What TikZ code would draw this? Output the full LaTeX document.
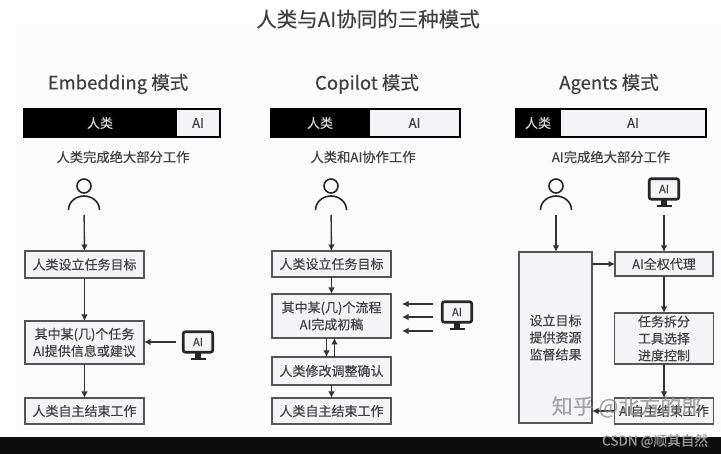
\documentclass[tikz,border=0pt]{standalone}
\usepackage{fontspec}
\setmainfont{Noto Sans CJK SC}[FakeBold=0.25]
\usepackage{tikz}
\usetikzlibrary{positioning, arrows.meta}
\definecolor{inkgray}{HTML}{404040}
\definecolor{boxline}{HTML}{555555}
\definecolor{boxfill}{HTML}{F4F4F6}
\tikzset{
  flowbox/.style={draw=boxline, line width=1.3pt, fill=boxfill, text=inkgray, align=center, font=\fontsize{13}{17}\selectfont, inner sep=0pt, outer sep=0pt},
  flowarrow/.style={->, line width=1.4pt, draw=black!80},
  darkbar/.style={fill=black, draw=black, line width=1.3pt, text=white!85!black, inner sep=0pt, outer sep=0pt, font=\fontsize{13}{15}\selectfont},
  lightbar/.style={fill=boxfill, draw=black, line width=1.3pt, text=inkgray, inner sep=0pt, outer sep=0pt, font=\fontsize{13}{15}\selectfont},
  headtext/.style={text=inkgray, font=\fontsize{18.5}{22}\selectfont, inner sep=0pt},
  subtext/.style={text=inkgray, font=\fontsize{13.3}{16}\selectfont, inner sep=0pt},
  humanicon/.style={minimum width=32pt, minimum height=42pt, inner sep=0pt, outer sep=0pt},
  monitor/.style={draw=black!85, line width=2.6pt, rounded corners=2pt, fill=boxfill, text=inkgray, minimum width=29.5pt, minimum height=20.5pt, inner sep=0pt, outer sep=0pt, font=\fontsize{11}{13}\selectfont},
}
\newcommand{\humanshape}[1]{
  \draw[black!85, line width=1.6pt] ([yshift=8pt]#1.center) circle (7pt);
  \draw[black!85, line width=1.6pt] ([xshift=-15.5pt,yshift=-16pt]#1.center) arc (180:0:15.5pt and 14pt);
}
\newcommand{\monitorstand}[1]{
  \fill[black!85] ([xshift=-3pt]#1.south) rectangle ([xshift=3pt,yshift=-5.5pt]#1.south);
  \fill[black!85] ([xshift=-7.5pt,yshift=-5.5pt]#1.south) rectangle ([xshift=7.5pt,yshift=-8pt]#1.south);
}
\begin{document}
\begin{tikzpicture}[x=1pt, y=-1pt, >={Latex[length=6.5pt,width=6.5pt]}, node distance=20pt]
  \useasboundingbox (0,0) rectangle (721,454);
  \fill[white] (0,0) rectangle (721,454);
  \fill[black!1.5] (16,24) rectangle (721,432);
  \fill[black!95] (0,437) rectangle (721,454);
  \node[text=inkgray, font=\fontsize{20.5}{24}\selectfont, inner sep=0pt] (title) at (368,19) {人类与AI协同的三种模式};

  % Embedding
  \node[headtext] (headA) at (118,84) {Embedding 模式};
  \node[darkbar, minimum width=152pt, minimum height=28pt] (barAhuman) at (100,123) {人类};
  \node[lightbar, minimum width=44pt, minimum height=28pt, right=0pt of barAhuman] (barAai) {AI};
  \node[subtext] (subA) at (123,157) {人类完成绝大部分工作};
  \node[humanicon] (humanA) at (84,194) {};
  \humanshape{humanA}
  \node[flowbox, minimum width=119pt, minimum height=27pt] (setA) at (84.5,264.5) {人类设立任务目标};
  \node[flowbox, minimum width=119pt, minimum height=43pt, below=43pt of setA] (helpA) {其中某(几)个任务\\AI提供信息或建议};
  \node[flowbox, minimum width=119pt, minimum height=26pt, below=34pt of helpA] (endA) {人类自主结束工作};
  \node[monitor] (aiA) at (198,342) {AI};
  \monitorstand{aiA}
  \draw[flowarrow] (humanA) -- (setA);
  \draw[flowarrow] (setA) -- (helpA);
  \draw[flowarrow] (helpA) -- (endA);
  \coordinate[left=7pt of aiA] (aiAout);
  \draw[flowarrow] (aiAout) -- (aiAout -| helpA.east);

  % Copilot
  \node[headtext] (headB) at (367,84) {Copilot 模式};
  \node[darkbar, minimum width=98pt, minimum height=28pt] (barBhuman) at (320,123) {人类};
  \node[lightbar, minimum width=91pt, minimum height=28pt, right=0pt of barBhuman] (barBai) {AI};
  \node[subtext] (subB) at (363,157) {人类和AI协作工作};
  \node[humanicon] (humanB) at (331,194) {};
  \humanshape{humanB}
  \node[flowbox, minimum width=119pt, minimum height=26pt] (setB) at (331.5,264) {人类设立任务目标};
  \node[flowbox, minimum width=119pt, minimum height=44pt, below=17pt of setB] (draftB) {其中某(几)个流程\\AI完成初稿};
  \node[flowbox, minimum width=119pt, minimum height=28pt, below=19pt of draftB] (editB) {人类修改调整确认};
  \node[flowbox, minimum width=119pt, minimum height=26pt, below=13pt of editB] (endB) {人类自主结束工作};
  \node[monitor] (aiB) at (457,312) {AI};
  \monitorstand{aiB}
  \coordinate (aiBtop) at (433,304);
  \coordinate (aiBmid) at (433,317);
  \coordinate (aiBlow) at (433,331);
  \coordinate (draftBtip) at (402,317);
  \draw[flowarrow] (humanB) -- (setB);
  \draw[flowarrow] (setB) -- (draftB);
  \draw[flowarrow] (editB) -- (endB);
  \draw[flowarrow] ([xshift=-5pt]draftB.south) -- ([xshift=-5pt]editB.north);
  \draw[flowarrow] ([xshift=3pt]editB.north) -- ([xshift=3pt]draftB.south);
  \draw[flowarrow] (aiBtop) -- (aiBtop -| draftBtip);
  \draw[flowarrow] (aiBmid) -- (draftBtip);
  \draw[flowarrow] (aiBlow) -- (aiBlow -| draftBtip);

  % Agents
  \node[headtext] (headC) at (609,84) {Agents 模式};
  \node[darkbar, minimum width=44pt, minimum height=28pt] (barChuman) at (538,123) {人类};
  \node[lightbar, minimum width=146pt, minimum height=28pt, right=0pt of barChuman] (barCai) {AI};
  \node[subtext] (subC) at (611,157) {AI完成绝大部分工作};
  \node[humanicon] (humanC) at (556,194) {};
  \humanshape{humanC}
  \node[monitor] (aiC) at (664,189) {AI};
  \monitorstand{aiC}
  \coordinate (aiCout) at (664,215);
  \node[flowbox, minimum width=73pt, minimum height=171pt] (superC) at (555.5,337.5) {设立目标\\提供资源\\监督结果};
  \node[flowbox, minimum width=98pt, minimum height=24pt] (agentC) at (664,264) {AI全权代理};
  \node[flowbox, minimum width=99pt, minimum height=51pt, below=37pt of agentC] (planC) {任务拆分\\工具选择\\进度控制};
  \node[flowbox, minimum width=99pt, minimum height=26pt, below=34pt of planC] (endC) {AI自主结束工作};
  \draw[flowarrow] (humanC) -- (superC.north -| humanC);
  \draw[flowarrow] (aiCout) -- (agentC);
  \draw[flowarrow] (superC.east |- agentC) -- (agentC);
  \draw[flowarrow] (agentC) -- (planC);
  \draw[flowarrow] (planC) -- (endC);
  \draw[flowarrow] (endC) -- (superC.east |- endC);

  % watermarks
  \node[text=black!45, opacity=.75, font=\fontsize{21}{24}\selectfont, inner sep=0pt] (markzhihu) at (627,407) {知乎 @北方的郎};
  \node[text=black!40, font=\fontsize{13.6}{15}\selectfont, inner sep=0pt] (markcsdn) at (655,441) {CSDN @顺其自然~};
\end{tikzpicture}
\end{document}
